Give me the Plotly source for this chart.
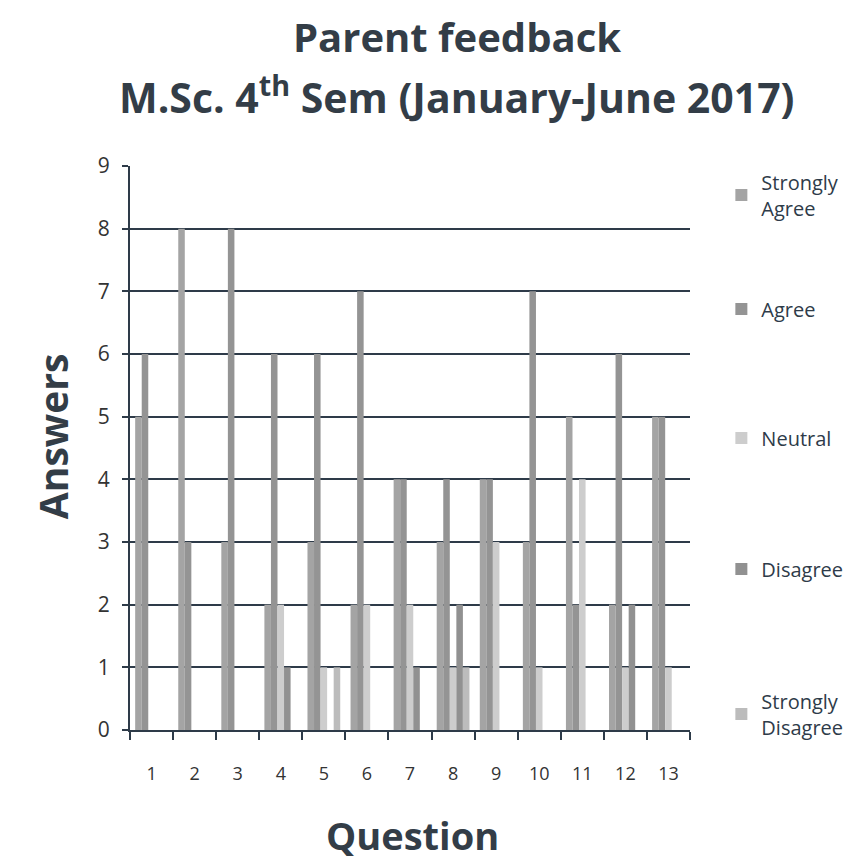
import plotly.graph_objects as go

questions = ["1", "2", "3", "4", "5", "6", "7", "8", "9", "10", "11", "12", "13"]
series_names = ["Strongly<br>Agree", "Agree", "Neutral", "Disagree", "Strongly<br>Disagree"]
strongly_agree = [5, 8, 3, 2, 3, 2, 4, 3, 4, 3, 5, 2, 5]
agree = [6, 3, 8, 6, 6, 7, 4, 4, 4, 7, 2, 6, 5]
neutral = [0, 0, 0, 2, 1, 2, 2, 1, 3, 1, 4, 1, 1]
disagree = [0, 0, 0, 1, 0, 0, 1, 2, 0, 0, 0, 2, 0]
strongly_disagree = [0, 0, 0, 0, 1, 0, 0, 1, 0, 0, 0, 0, 0]
y_ticks = [0, 1, 2, 3, 4, 5, 6, 7, 8, 9]

series_values = [strongly_agree, agree, neutral, disagree, strongly_disagree]
colors = ["#a4a4a4", "#949494", "#cdcdcd", "#919191", "#bcbcbc"]
legend_y = [0.9486, 0.7465, 0.5177, 0.2855, 0.0284]

FONT = "Open Sans"
TXT = "#2e3b49"
AX = "#2e3b49"

fig = go.Figure()
for i, (name, vals, col) in enumerate(zip(series_names, series_values, colors)):
    fig.add_trace(go.Bar(
        x=questions, y=vals, name=name, marker=dict(color=col, line=dict(width=0)),
        legend="legend" if i == 0 else f"legend{i+1}",
    ))

legends = {}
for i, ly in enumerate(legend_y):
    key = "legend" if i == 0 else f"legend{i+1}"
    legends[key] = dict(
        x=1.056, xanchor="left", y=ly, yanchor="middle",
        font=dict(family=FONT, size=20, color=TXT),
        bgcolor="rgba(0,0,0,0)", itemwidth=30,
    )

fig.update_layout(
    width=848, height=853,
    paper_bgcolor="white", plot_bgcolor="white",
    margin=dict(l=122, r=166, t=158, b=131, autoexpand=False),
    barmode="group", bargap=0.24, bargroupgap=0,
    font=dict(family=FONT, color=TXT),
    showlegend=True,
    xaxis=dict(
        type="category", showline=True, linecolor=AX, linewidth=2,
        ticks="outside", ticklen=8, tickcolor=AX, tickwidth=2, tickson="boundaries",
        showgrid=False, automargin=False, ticklabelstandoff=26,
        tickfont=dict(family=FONT, size=18, color="#333"),
    ),
    yaxis=dict(
        range=[0, 9], tickvals=y_ticks, showline=True, linecolor=AX, linewidth=2,
        ticks="outside", ticklen=6, tickcolor=AX, tickwidth=2,
        showgrid=True, gridcolor=AX, gridwidth=2, zeroline=False,
        automargin=False, ticklabelstandoff=8,
        tickfont=dict(family=FONT, size=21, color="#333"),
    ),
    annotations=[
        dict(text="<b>Parent feedback</b>", xref="paper", yref="paper", x=0.584, y=1.229,
             xanchor="center", yanchor="middle", showarrow=False,
             font=dict(family=FONT, size=40, color="#333d47")),
        dict(text="<b>M.Sc. 4<sup>th</sup> Sem (January-June 2017)</b>", xref="paper", yref="paper",
             x=0.584, y=1.1259, xanchor="center", yanchor="middle", showarrow=False,
             font=dict(family=FONT, size=41, color="#333d47")),
        dict(text="<b>Answers</b>", xref="paper", yref="paper", x=-0.139, y=0.5195,
             xanchor="center", yanchor="middle", textangle=-90, showarrow=False,
             font=dict(family=FONT, size=39, color="#333d47")),
        dict(text="<b>Question</b>", xref="paper", yref="paper", x=0.505, y=-0.187,
             xanchor="center", yanchor="middle", showarrow=False,
             font=dict(family=FONT, size=38, color="#333d47")),
    ],
    **legends,
)

fig.write_html("out.html")
